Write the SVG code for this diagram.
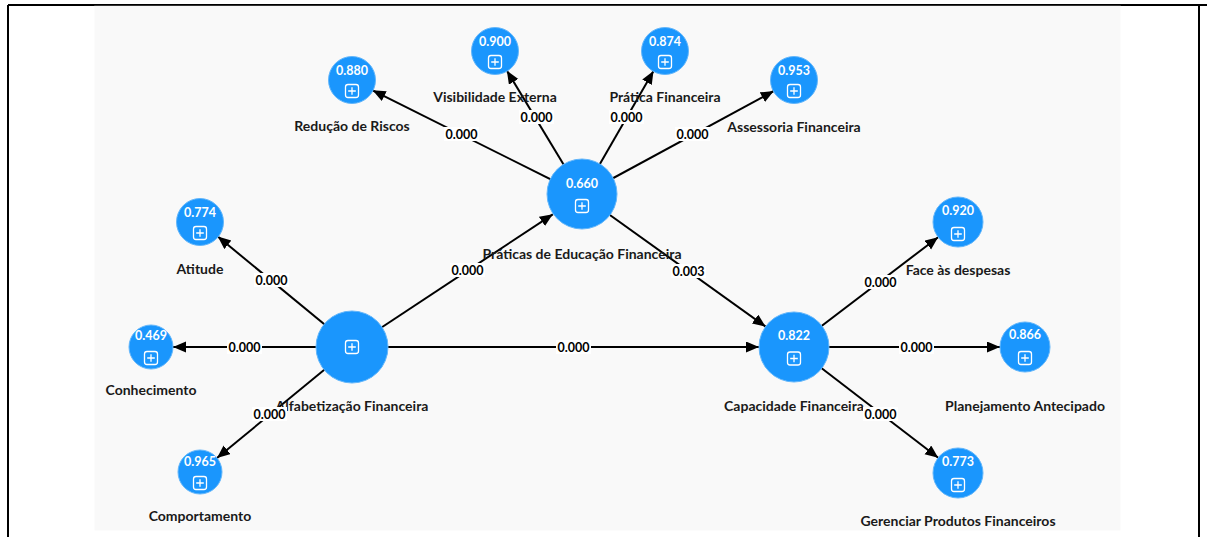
<svg xmlns="http://www.w3.org/2000/svg" width="1207" height="537" viewBox="0 0 1207 537">
<defs>
<style>
.bg{fill:#f9f9f9}
.frame{stroke:#000;stroke-width:2;fill:none}
.c{fill:#1a96fd;stroke:#62b6fb;stroke-width:1}
.v{font-family:Lato,"Liberation Sans",sans-serif;font-weight:bold;font-size:12.5px;fill:#fff;text-anchor:middle}
.lbl{font-family:Lato,"Liberation Sans",sans-serif;font-weight:bold;font-size:14px;fill:#1a1a1a;text-anchor:middle}
.e{stroke:#000;stroke-width:2;fill:none;marker-end:url(#arr)}
.eb{fill:#fff}
.et{font-family:Lato,"Liberation Sans",sans-serif;font-weight:bold;font-size:12.5px;fill:#000;text-anchor:middle}
.ic{fill:none;stroke:#fff;stroke-width:1.3}
</style>
<marker id="arr" markerUnits="userSpaceOnUse" markerWidth="14" markerHeight="12" refX="13" refY="5.5" orient="auto">
<path d="M0,0 L13,5.5 L0,11 z" fill="#000"/>
</marker>
<g id="icon">
<rect x="-6.5" y="-6.5" width="13" height="13" rx="2.5" class="ic"/>
<path d="M-3.8,0 H3.8 M0,-3.8 V3.8" class="ic"/>
</g>
</defs>
<rect class="bg" x="94.5" y="5.5" width="1026" height="525"/>
<path class="frame" d="M8,5 H1207 M8,5 V537 M1199,5 V537"/>
<rect class="bg" x="94.5" y="5.6" width="1026" height="2"/>
<path d="M94.5,5 H1120.5" stroke="#000" stroke-width="1"/>

<g id="connectors">
<line class="e" x1="352" y1="347" x2="217.8" y2="236.6"/>
<line class="e" x1="352" y1="347" x2="173" y2="347"/>
<line class="e" x1="352" y1="347" x2="217" y2="458"/>
<line class="e" x1="352" y1="347" x2="552.8" y2="214.3"/>
<line class="e" x1="352" y1="347" x2="759" y2="347"/>
<line class="e" x1="582" y1="195" x2="765.6" y2="326.6"/>
<line class="e" x1="582" y1="195" x2="372.6" y2="90.3"/>
<line class="e" x1="582" y1="195" x2="506.9" y2="70.7"/>
<line class="e" x1="582" y1="195" x2="653.5" y2="70.9"/>
<line class="e" x1="582" y1="195" x2="773.8" y2="91"/>
<line class="e" x1="794" y1="347" x2="938.1" y2="237.2"/>
<line class="e" x1="794" y1="347" x2="1000" y2="347"/>
<line class="e" x1="794" y1="347" x2="938.2" y2="457.8"/>
</g>

<g id="n-reducao">
<circle class="c" cx="352" cy="80" r="23.5"/>
<text class="v" x="352" y="74.5">0.880</text>
<use href="#icon" x="352" y="91"/>
<text class="lbl" x="352" y="131">Redução de Riscos</text>
</g>
<g id="n-visibilidade">
<circle class="c" cx="495" cy="51" r="23.5"/>
<text class="v" x="495" y="45.5">0.900</text>
<use href="#icon" x="495" y="62"/>
<text class="lbl" x="495" y="102">Visibilidade Externa</text>
</g>
<g id="n-pratica">
<circle class="c" cx="665" cy="51" r="23.5"/>
<text class="v" x="665" y="45.5">0.874</text>
<use href="#icon" x="665" y="62"/>
<text class="lbl" x="665" y="102">Prática Financeira</text>
</g>
<g id="n-assessoria">
<circle class="c" cx="794" cy="80" r="23.5"/>
<text class="v" x="794" y="74.5">0.953</text>
<use href="#icon" x="794" y="91"/>
<text class="lbl" x="794" y="132">Assessoria Financeira</text>
</g>
<g id="n-praticas-educacao">
<circle class="c" cx="582" cy="194" r="35"/>
<text class="v" x="582" y="187.5">0.660</text>
<use href="#icon" x="582" y="206"/>
<text class="lbl" x="582" y="258.5">Práticas de Educação Financeira</text>
</g>
<g id="n-atitude">
<circle class="c" cx="200" cy="222" r="23.5"/>
<text class="v" x="200" y="216.5">0.774</text>
<use href="#icon" x="200" y="233"/>
<text class="lbl" x="200" y="274">Atitude</text>
</g>
<g id="n-conhecimento">
<circle class="c" cx="151" cy="347" r="22"/>
<text class="v" x="151" y="339.5">0.469</text>
<use href="#icon" x="151" y="358"/>
<text class="lbl" x="151" y="395">Conhecimento</text>
</g>
<g id="n-alfabetizacao">
<circle class="c" cx="352" cy="347" r="36"/>
<use href="#icon" x="352" y="347"/>
<text class="lbl" x="352" y="411">Alfabetização Financeira</text>
</g>
<g id="n-comportamento">
<circle class="c" cx="200" cy="472" r="22"/>
<text class="v" x="200" y="465.5">0.965</text>
<use href="#icon" x="200" y="483"/>
<text class="lbl" x="200" y="521">Comportamento</text>
</g>
<g id="n-capacidade">
<circle class="c" cx="794" cy="347" r="35"/>
<text class="v" x="794" y="340">0.822</text>
<use href="#icon" x="794" y="358.5"/>
<text class="lbl" x="794" y="411">Capacidade Financeira</text>
</g>
<g id="n-face">
<circle class="c" cx="958" cy="222" r="25"/>
<text class="v" x="958" y="214.5">0.920</text>
<use href="#icon" x="958" y="234"/>
<text class="lbl" x="958" y="275">Face às despesas</text>
</g>
<g id="n-planejamento">
<circle class="c" cx="1025" cy="347" r="25"/>
<text class="v" x="1025" y="339">0.866</text>
<use href="#icon" x="1025" y="358"/>
<text class="lbl" x="1025" y="411">Planejamento Antecipado</text>
</g>
<g id="n-gerenciar">
<circle class="c" cx="958" cy="473" r="25"/>
<text class="v" x="958" y="465.5">0.773</text>
<use href="#icon" x="958" y="485"/>
<text class="lbl" x="958" y="525.5">Gerenciar Produtos Financeiros</text>
</g>

<g id="edge-labels">
<rect class="eb" x="254" y="273" width="35" height="14"/><text class="et" x="271.5" y="284.5">0.000</text>
<rect class="eb" x="227" y="340" width="35" height="14"/><text class="et" x="244.5" y="351.5">0.000</text>
<rect class="eb" x="252" y="407" width="35" height="14"/><text class="et" x="269.5" y="418.5">0.000</text>
<rect class="eb" x="450" y="263" width="35" height="14"/><text class="et" x="467.5" y="274.5">0.000</text>
<rect class="eb" x="556" y="340" width="35" height="14"/><text class="et" x="573.5" y="351.5">0.000</text>
<rect class="eb" x="671" y="264" width="35" height="14"/><text class="et" x="688.5" y="275.5">0.003</text>
<rect class="eb" x="444" y="127" width="35" height="14"/><text class="et" x="461.5" y="138.5">0.000</text>
<rect class="eb" x="519" y="110" width="35" height="14"/><text class="et" x="536.5" y="121.5">0.000</text>
<rect class="eb" x="609" y="110" width="35" height="14"/><text class="et" x="626.5" y="121.5">0.000</text>
<rect class="eb" x="675" y="127" width="35" height="14"/><text class="et" x="692.5" y="138.5">0.000</text>
<rect class="eb" x="863" y="275" width="35" height="14"/><text class="et" x="880.5" y="286.5">0.000</text>
<rect class="eb" x="899" y="340" width="35" height="14"/><text class="et" x="916.5" y="351.5">0.000</text>
<rect class="eb" x="863" y="407" width="35" height="14"/><text class="et" x="880.5" y="418.5">0.000</text>
</g>
</svg>
